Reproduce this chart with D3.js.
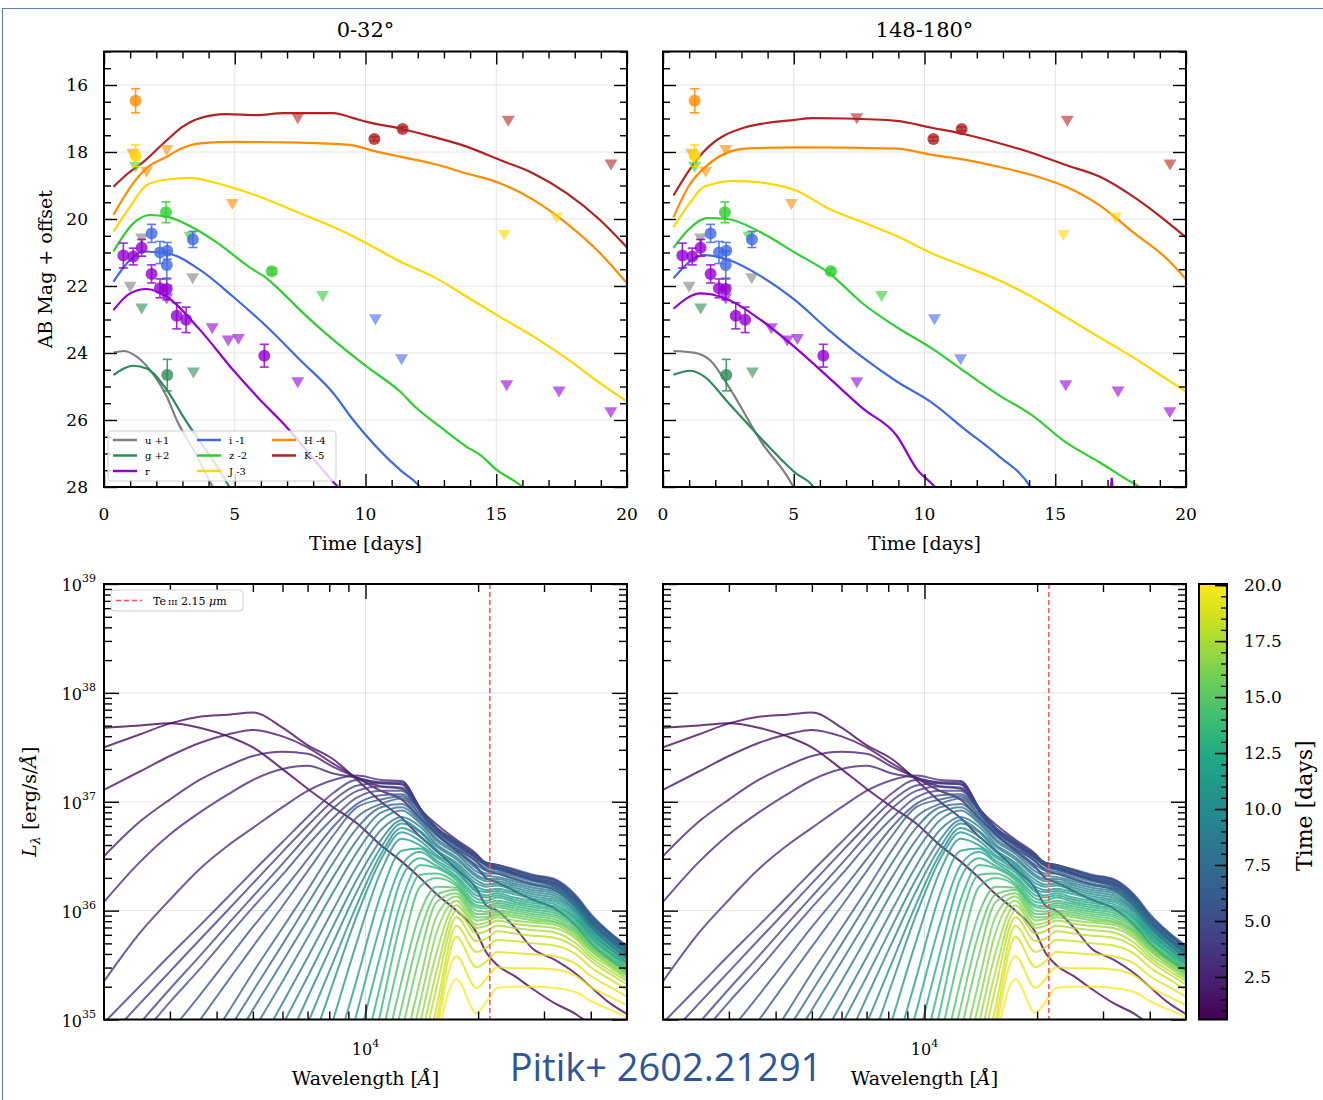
<!DOCTYPE html>
<html><head><meta charset="utf-8">
<script src="https://cdn.jsdelivr.net/npm/d3@7"></script>
<style>body{margin:0;background:#fff}svg{display:block}</style>
</head><body>
<svg id="c" width="1323" height="1100"></svg>
<script>
// ---------------- DATA ----------------
const bandNames=["u","g","r","i","z","J","H","K"];
const bandLabels=["u +1","g +2","r","i -1","z -2","J -3","H -4","K -5"];
const bandColors=["#808080","#2e8b57","#9400d3","#4169e1","#32cd32","#ffd700","#ff8c00","#b22222"];
const panelTitles=["0-32°","148-180°"];

// model light curves, left panel (0-32 deg): [time, mag]
const leftU=[[0.36,23.99],[0.74,23.94],[1.25,24.11],[1.76,24.51],[2.40,25.30],[2.78,26.00],[3.5,27.0],[4.12,27.94],[4.3,28.2]];
const leftG=[[0.36,24.66],[1.12,24.38],[1.63,24.46],[2.40,25.10],[3.03,25.90],[4.75,27.94],[4.9,28.15]];
const leftR=[[0.36,22.72],[1.00,22.22],[1.63,22.09],[2.40,22.32],[3.67,23.31],[4.94,24.51],[6.22,25.60],[6.73,26.00],[8.95,28.00],[9.2,28.2]];
const leftI=[[0.36,21.87],[1.00,21.22],[1.50,20.97],[2.40,21.02],[3.67,21.52],[4.94,22.32],[6.22,23.21],[7.50,24.21],[8.77,25.20],[9.53,26.00],[11.32,27.49],[12.02,27.94],[12.3,28.2]];
const leftZ=[[0.36,20.97],[1.12,20.13],[1.76,19.88],[2.40,19.93],[3.50,20.30],[4.31,20.70],[5.58,21.45],[6.22,21.77],[7.11,22.42],[7.50,22.72],[8.77,23.61],[10.05,24.41],[11.32,25.15],[11.96,25.65],[12.85,26.20],[13.87,26.80],[14.38,27.04],[15.02,27.49],[15.91,27.94],[16.3,28.2]];
const leftJ=[[0.36,20.38],[1.00,19.63],[1.63,18.99],[2.40,18.82],[3.29,18.77],[4.31,18.93],[5.58,19.23],[7.50,19.83],[9.02,20.33],[10.05,20.73],[11.32,21.27],[12.59,21.72],[13.87,22.32],[15.14,22.92],[16.42,23.51],[17.69,24.16],[18.97,24.90],[20.00,25.45]];
const leftH=[[0.36,19.88],[1.12,18.93],[1.60,18.50],[2.40,18.14],[3.00,17.88],[3.67,17.74],[4.94,17.70],[7.50,17.72],[9.40,17.79],[10.43,17.99],[11.32,18.14],[12.59,18.35],[13.87,18.64],[15.14,18.93],[16.42,19.43],[17.69,20.13],[18.97,21.02],[20.00,21.92]];
const leftK=[[0.36,19.04],[0.90,18.65],[1.50,18.30],[2.40,17.65],[3.00,17.25],[3.55,17.02],[4.69,16.87],[5.84,16.90],[6.86,16.84],[8.77,16.84],[9.50,16.98],[10.05,17.10],[11.32,17.30],[12.59,17.55],[13.87,17.84],[15.14,18.24],[16.42,18.64],[17.69,19.23],[18.97,20.03],[20.00,20.85]];

// model light curves, right panel (148-180 deg)
const rightU=[[0.40,23.94],[1.18,23.99],[1.83,24.24],[2.47,24.95],[3.77,26.67],[4.98,28.0],[5.1,28.2]];
const rightG=[[0.40,24.65],[1.05,24.53],[1.57,24.70],[2.47,25.46],[3.77,26.57],[5.06,27.58],[5.75,28.0],[5.9,28.2]];
const rightR=[[0.40,22.68],[1.44,22.22],[2.21,22.32],[3.77,23.03],[5.06,23.84],[6.36,24.75],[7.65,25.66],[8.94,26.47],[9.72,27.48],[10.4,28.0],[10.6,28.2]];
const rightRSpike=[[17.10,28.3],[17.16,27.73],[17.22,28.3]];
const rightI=[[0.40,21.77],[1.57,21.08],[2.47,21.21],[3.77,21.72],[5.06,22.43],[6.36,23.33],[7.65,24.14],[8.94,24.85],[10.24,25.46],[11.53,26.27],[12.83,27.07],[14.05,28.0],[14.2,28.2]];
const rightZ=[[0.40,20.86],[1.00,20.30],[1.70,19.97],[2.47,20.00],[3.77,20.41],[5.06,21.01],[6.36,21.62],[7.65,22.53],[8.94,23.23],[10.24,23.84],[11.53,24.55],[12.83,25.25],[14.12,25.86],[15.41,26.67],[16.71,27.27],[17.74,27.78],[18.2,28.0],[18.4,28.2]];
const rightJ=[[0.40,20.25],[1.00,19.55],[1.57,19.04],[2.73,18.86],[3.77,18.91],[5.06,19.14],[6.36,19.70],[7.65,20.10],[8.94,20.51],[10.24,21.01],[11.53,21.41],[12.83,21.82],[14.12,22.33],[15.41,22.93],[16.71,23.54],[18.00,24.14],[19.30,24.80],[20.00,25.15]];
const rightH=[[0.40,19.95],[1.00,19.00],[1.70,18.39],[3.12,17.90],[5.06,17.86],[8.94,17.90],[10.24,18.08],[11.53,18.23],[12.83,18.44],[14.12,18.69],[15.41,19.04],[16.71,19.60],[18.00,20.41],[19.30,21.21],[20.00,21.80]];
const rightK=[[0.40,19.30],[1.00,18.55],[1.57,17.98],[3.12,17.27],[5.06,17.04],[5.71,16.99],[7.00,17.00],[8.94,17.07],[10.24,17.27],[11.53,17.47],[12.83,17.73],[14.12,18.03],[15.41,18.39],[16.71,18.74],[18.00,19.34],[19.30,20.10],[20.00,20.55]];

// detections [time, mag, err]
const detU=[];
const detG=[[2.42,24.66,0.47]];
const detR=[[0.74,21.09,0.37],[1.12,21.12,0.25],[1.44,20.86,0.25],[1.82,21.64,0.27],[2.14,22.07,0.28],[2.40,22.09,0.32],[2.78,22.89,0.39],[3.14,23.01,0.38],[6.13,24.08,0.34]];
const detI=[[1.82,20.43,0.27],[2.14,21.00,0.33],[2.42,20.95,0.25],[2.40,21.37,0.42],[3.40,20.61,0.24]];
const detZ=[[2.37,19.80,0.31],[6.42,21.56,0.08]];
const detJ=[[1.21,18.11,0.32]];
const detH=[[1.21,16.47,0.36]];
const detK=[[10.34,17.61,0.06],[11.42,17.31,0.06]];
// upper limits [time, mag]
const limU=[[1.00,22.02],[1.44,20.58],[2.40,22.10],[3.39,21.77]];
const limG=[[1.44,22.67],[3.42,24.58]];
const limR=[[2.40,22.37],[4.14,23.26],[4.75,23.63],[5.14,23.58],[7.41,24.87],[15.40,24.96],[17.40,25.15],[19.38,25.77]];
const limI=[[10.38,22.99],[11.38,24.19]];
const limZ=[[1.21,18.44],[3.29,20.53],[8.36,22.30]];
const limJ=[[15.31,20.48],[17.31,19.96]];
const limH=[[1.10,18.05],[1.63,18.59],[2.40,17.94],[4.91,19.55]];
const limK=[[7.41,16.99],[15.46,17.07],[19.39,18.37]];

// spectra: wavelength grid (Angstrom), times (days), log10 L_lambda
const n=null;
const specWave=[2000,2500,3000,3600,4300,5000,6000,7000,8200,9500,11000,12500,14000,15500,17500,19800,21000,22500,25000,28000,32000,36500,40000,45000,50000];
const specTimes=[0.5,1,1.5,2,2.5,3,3.5,4,4.5,5,5.5,6,6.5,7,7.5,8,8.5,9,9.5,10,10.5,11,11.5,12,12.5,13,13.5,14,14.5,15,15.5,16,16.5,17,17.5,18,18.5,19,19.5,20];
const specLogL=[
[37.68,37.70,37.72,37.68,37.60,37.50,37.30,37.12,36.95,36.80,36.60,36.45,36.30,36.15,36.00,35.80,35.62,35.50,35.40,35.28,35.15,35.05,34.95,34.85,34.75],
[37.50,37.62,37.72,37.78,37.80,37.82,37.68,37.52,37.39,37.20,37.00,36.85,36.68,36.55,36.38,36.20,36.05,36.00,35.85,35.65,35.55,35.42,35.30,35.15,35.05],
[37.11,37.28,37.42,37.54,37.62,37.66,37.60,37.50,37.35,37.22,37.10,37.02,36.85,36.70,36.55,36.40,36.30,36.26,36.18,36.10,36.02,35.86,35.70,35.55,35.45],
[36.50,36.82,37.02,37.20,37.33,37.42,37.46,37.44,37.32,37.22,37.14,37.12,36.93,36.79,36.65,36.52,36.43,36.40,36.34,36.28,36.22,36.06,35.89,35.73,35.61],
[36.08,36.45,36.70,36.90,37.07,37.20,37.30,37.33,37.26,37.22,37.17,37.16,36.91,36.70,36.57,36.45,36.37,36.34,36.29,36.24,36.19,36.03,35.86,35.69,35.57],
[35.35,35.80,36.10,36.38,36.60,36.76,36.95,37.10,37.20,37.24,37.20,37.19,36.94,36.73,36.60,36.48,36.41,36.38,36.33,36.28,36.24,36.08,35.90,35.73,35.60],
[34.97,35.31,35.59,35.86,36.13,36.36,36.63,36.86,37.08,37.20,37.18,37.18,36.94,36.74,36.61,36.49,36.42,36.39,36.34,36.29,36.25,36.09,35.91,35.74,35.61],
[34.79,35.15,35.44,35.73,36.01,36.25,36.54,36.78,37.01,37.15,37.17,37.16,36.94,36.75,36.62,36.50,36.43,36.40,36.35,36.30,36.26,36.10,35.92,35.75,35.62],
[n,34.97,35.28,35.58,35.88,36.13,36.43,36.69,36.94,37.10,37.14,37.13,36.93,36.76,36.63,36.51,36.44,36.42,36.37,36.32,36.28,36.12,35.95,35.78,35.65],
[n,34.84,35.16,35.46,35.77,36.03,36.33,36.60,36.85,37.04,37.10,37.10,36.92,36.76,36.63,36.50,36.44,36.42,36.37,36.32,36.28,36.13,35.95,35.79,35.66],
[n,n,34.88,35.22,35.56,35.85,36.18,36.47,36.77,36.98,37.06,37.07,36.92,36.76,36.64,36.50,36.44,36.42,36.38,36.33,36.29,36.14,35.97,35.80,35.68],
[n,n,n,34.99,35.36,35.67,36.04,36.36,36.69,36.95,37.02,37.05,36.89,36.74,36.61,36.47,36.42,36.40,36.36,36.31,36.27,36.12,35.95,35.79,35.66],
[n,n,n,34.66,35.07,35.43,35.84,36.19,36.56,36.86,36.98,37.03,36.87,36.71,36.59,36.45,36.39,36.38,36.33,36.29,36.25,36.11,35.94,35.77,35.65],
[n,n,n,n,34.90,35.26,35.69,36.06,36.44,36.76,36.95,36.98,36.84,36.69,36.56,36.42,36.37,36.36,36.31,36.27,36.23,36.09,35.92,35.76,35.64],
[n,n,n,n,34.71,35.09,35.53,35.91,36.31,36.65,36.90,36.95,36.82,36.66,36.54,36.39,36.34,36.34,36.29,36.25,36.21,36.07,35.90,35.75,35.62],
[n,n,n,n,n,34.89,35.35,35.75,36.17,36.54,36.83,36.92,36.80,36.64,36.52,36.36,36.32,36.31,36.27,36.23,36.20,36.05,35.89,35.73,35.61],
[n,n,n,n,n,34.66,35.15,35.57,36.01,36.41,36.74,36.86,36.77,36.61,36.49,36.33,36.29,36.29,36.25,36.21,36.18,36.04,35.87,35.72,35.60],
[n,n,n,n,n,n,34.95,35.39,35.86,36.29,36.65,36.83,36.73,36.59,36.47,36.31,36.27,36.27,36.23,36.19,36.16,36.02,35.86,35.71,35.59],
[n,n,n,n,n,n,34.70,35.20,35.71,36.18,36.58,36.80,36.72,36.56,36.44,36.28,36.24,36.25,36.21,36.17,36.14,36.00,35.84,35.69,35.57],
[n,n,n,n,n,n,n,34.96,35.53,36.06,36.52,36.76,36.68,36.54,36.42,36.25,36.22,36.23,36.19,36.15,36.12,35.99,35.83,35.68,35.56],
[n,n,n,n,n,n,n,34.66,35.34,35.96,36.47,36.72,36.64,36.51,36.40,36.22,36.19,36.20,36.17,36.13,36.10,35.97,35.81,35.66,35.55],
[n,n,n,n,n,n,n,34.22,35.00,35.72,36.36,36.66,36.60,36.49,36.37,36.19,36.17,36.18,36.15,36.11,36.08,35.95,35.80,35.65,35.53],
[n,n,n,n,n,n,n,n,34.62,35.38,36.15,36.55,36.57,36.46,36.35,36.17,36.14,36.16,36.12,36.09,36.06,35.93,35.78,35.64,35.52],
[n,n,n,n,n,n,n,n,34.25,35.07,35.88,36.42,36.54,36.44,36.32,36.14,36.12,36.14,36.10,36.07,36.04,35.92,35.77,35.62,35.51],
[n,n,n,n,n,n,n,n,n,34.75,35.61,36.30,36.48,36.41,36.30,36.11,36.09,36.12,36.08,36.05,36.02,35.90,35.75,35.61,35.50],
[n,n,n,n,n,n,n,n,n,34.43,35.34,36.10,36.42,36.39,36.28,36.08,36.07,36.09,36.06,36.03,36.00,35.88,35.74,35.60,35.48],
[n,n,n,n,n,n,n,n,n,34.12,35.08,35.92,36.33,36.34,36.25,36.05,36.04,36.07,36.04,36.01,35.98,35.87,35.72,35.58,35.47],
[n,n,n,n,n,n,n,n,n,n,34.80,35.64,36.22,36.30,36.23,36.03,36.02,36.05,36.02,35.99,35.96,35.85,35.70,35.57,35.46],
[n,n,n,n,n,n,n,n,n,n,34.52,35.36,35.98,36.22,36.21,36.00,35.99,36.03,36.00,35.97,35.94,35.83,35.69,35.55,35.45],
[n,n,n,n,n,n,n,n,n,n,34.28,35.12,35.80,36.15,36.19,35.97,35.97,36.00,35.98,35.95,35.92,35.81,35.67,35.54,35.43],
[n,n,n,n,n,n,n,n,n,n,n,34.88,35.60,36.08,36.16,35.94,35.94,35.98,35.96,35.93,35.90,35.80,35.66,35.53,35.42],
[n,n,n,n,n,n,n,n,n,n,n,34.64,35.36,35.95,36.13,35.91,35.92,35.96,35.94,35.91,35.89,35.78,35.64,35.51,35.41],
[n,n,n,n,n,n,n,n,n,n,n,34.44,35.16,35.80,36.09,35.87,35.89,35.94,35.91,35.89,35.87,35.76,35.63,35.50,35.39],
[n,n,n,n,n,n,n,n,n,n,n,n,34.96,35.62,36.05,35.84,35.86,35.91,35.88,35.86,35.84,35.74,35.60,35.48,35.37],
[n,n,n,n,n,n,n,n,n,n,n,n,34.76,35.45,36.00,35.79,35.81,35.86,35.84,35.82,35.80,35.70,35.57,35.45,35.35],
[n,n,n,n,n,n,n,n,n,n,n,n,34.60,35.30,35.94,35.72,35.74,35.81,35.79,35.77,35.75,35.66,35.54,35.42,35.32],
[n,n,n,n,n,n,n,n,n,n,n,n,34.45,35.12,35.86,35.62,35.66,35.73,35.72,35.70,35.68,35.60,35.48,35.37,35.27],
[n,n,n,n,n,n,n,n,n,n,n,n,34.30,35.00,35.76,35.48,35.53,35.62,35.61,35.60,35.58,35.51,35.40,35.30,35.21],
[n,n,n,n,n,n,n,n,n,n,n,n,n,34.88,35.58,35.29,35.37,35.48,35.47,35.47,35.46,35.40,35.30,35.21,35.13],
[n,n,n,n,n,n,n,n,n,n,n,n,n,34.80,35.37,35.06,35.16,35.29,35.30,35.30,35.29,35.25,35.17,35.09,35.02]
];
const teLine=21500;
const colorbarTicks=[2.5,5.0,7.5,10.0,12.5,15.0,17.5,20.0];

// ---------------- DRAWING ----------------
const svg=d3.select("#c");
const SERIF="'DejaVu Serif', serif";
svg.append("rect").attr("x",2.5).attr("y",8.5).attr("width",1340).attr("height",1200)
  .attr("fill","none").attr("stroke","#5b7fb8").attr("stroke-width",1);

const topBox=[{l:104,r:627,t:51.5,b:487},{l:663,r:1186,t:51.5,b:487}];
const botBox=[{l:104,r:627,t:584,b:1019.5},{l:663,r:1186,t:584,b:1019.5}];
const leftModels=[leftU,leftG,leftR,leftI,leftZ,leftJ,leftH,leftK];
const rightModels=[rightU,rightG,rightR,rightI,rightZ,rightJ,rightH,rightK];
const dets=[detU,detG,detR,detI,detZ,detJ,detH,detK];
const lims=[limU,limG,limR,limI,limZ,limJ,limH,limK];

function inwardTicks(g,box,xs,ys,xMaj,xMin,yMaj,yMin,LM,Lm){
  const mk=(axis,vals,len,tr)=>{
    const a=g.append("g").attr("transform",tr).call(axis.tickValues(vals).tickSize(-len).tickFormat(""));
    a.select(".domain").remove();
    a.selectAll("line").attr("stroke","#000").attr("stroke-width",1.4);
  };
  mk(d3.axisBottom(xs),xMaj,LM,`translate(0,${box.b})`);
  mk(d3.axisBottom(xs),xMin,Lm,`translate(0,${box.b})`);
  mk(d3.axisTop(xs),xMaj,LM,`translate(0,${box.t})`);
  mk(d3.axisTop(xs),xMin,Lm,`translate(0,${box.t})`);
  mk(d3.axisLeft(ys),yMaj,LM,`translate(${box.l},0)`);
  mk(d3.axisLeft(ys),yMin,Lm,`translate(${box.l},0)`);
  mk(d3.axisRight(ys),yMaj,LM,`translate(${box.r},0)`);
  mk(d3.axisRight(ys),yMin,Lm,`translate(${box.r},0)`);
}

// ---- top panels ----
topBox.forEach((box,pi)=>{
  const g=svg.append("g");
  const xs=d3.scaleLinear().domain([0,20]).range([box.l,box.r]);
  const ys=d3.scaleLinear().domain([15,28]).range([box.t,box.b]);
  const cid="ctop"+pi;
  svg.append("clipPath").attr("id",cid).append("rect").attr("x",box.l).attr("y",box.t).attr("width",box.r-box.l).attr("height",box.b-box.t);
  [5,10,15].forEach(v=>g.append("line").attr("x1",xs(v)).attr("x2",xs(v)).attr("y1",box.t).attr("y2",box.b).attr("stroke","#e4e4e4").attr("stroke-width",1));
  [16,18,20,22,24,26].forEach(v=>g.append("line").attr("x1",box.l).attr("x2",box.r).attr("y1",ys(v)).attr("y2",ys(v)).attr("stroke","#e4e4e4").attr("stroke-width",1));
  const pg=g.append("g").attr("clip-path",`url(#${cid})`);
  const line=d3.line().x(d=>xs(d[0])).y(d=>ys(d[1])).curve(d3.curveMonotoneX);
  const models=pi===0?leftModels:rightModels;
  models.forEach((m,bi)=>pg.append("path").attr("d",line(m)).attr("fill","none").attr("stroke",bandColors[bi]).attr("stroke-width",2.2));
  if(pi===1) pg.append("path").attr("d",d3.line().x(d=>xs(d[0])).y(d=>ys(d[1]))(rightRSpike)).attr("fill","none").attr("stroke",bandColors[2]).attr("stroke-width",2.2);
  lims.forEach((arr,bi)=>arr.forEach(d=>{
    const x=xs(d[0]),y=ys(d[1]);
    pg.append("path").attr("d",`M${x-6.5},${y-5}L${x+6.5},${y-5}L${x},${y+6}Z`).attr("fill",bandColors[bi]).attr("fill-opacity",0.6);
  }));
  dets.forEach((arr,bi)=>arr.forEach(d=>{
    const x=xs(d[0]),y=ys(d[1]),y1=ys(d[1]-d[2]),y2=ys(d[1]+d[2]);
    const c=bandColors[bi];
    const eg=pg.append("g").attr("stroke",c).attr("stroke-width",1.6).attr("opacity",0.85);
    eg.append("line").attr("x1",x).attr("x2",x).attr("y1",y1).attr("y2",y2);
    eg.append("line").attr("x1",x-4.5).attr("x2",x+4.5).attr("y1",y1).attr("y2",y1);
    eg.append("line").attr("x1",x-4.5).attr("x2",x+4.5).attr("y1",y2).attr("y2",y2);
    pg.append("circle").attr("cx",x).attr("cy",y).attr("r",6).attr("fill",c).attr("fill-opacity",0.8);
  }));
  inwardTicks(g,box,xs,ys,[0,5,10,15,20],d3.range(1,20).filter(v=>v%5),[16,18,20,22,24,26,28],d3.range(15,28.01,0.5).filter(v=>v%2!==0),13,7);
  g.append("rect").attr("x",box.l).attr("y",box.t).attr("width",box.r-box.l).attr("height",box.b-box.t).attr("fill","none").attr("stroke","#000").attr("stroke-width",2);
  [0,5,10,15,20].forEach(v=>g.append("text").attr("x",xs(v)).attr("y",box.b+33).attr("text-anchor","middle").attr("font-family",SERIF).attr("font-size",17).text(v));
  if(pi===0)[16,18,20,22,24,26,28].forEach(v=>g.append("text").attr("x",box.l-16).attr("y",ys(v)+6).attr("text-anchor","end").attr("font-family",SERIF).attr("font-size",17).text(v));
  g.append("text").attr("x",(box.l+box.r)/2).attr("y",box.b+63).attr("text-anchor","middle").attr("font-family",SERIF).attr("font-size",19).text("Time [days]");
  g.append("text").attr("x",(box.l+box.r)/2).attr("y",37).attr("text-anchor","middle").attr("font-family",SERIF).attr("font-size",21).text(panelTitles[pi]);
  if(pi===0){
    g.append("text").attr("transform",`translate(52,${(box.t+box.b)/2}) rotate(-90)`).attr("text-anchor","middle").attr("font-family",SERIF).attr("font-size",19).text("AB Mag + offset");
    const lg=g.append("g");
    lg.append("rect").attr("x",108).attr("y",431).attr("width",228).attr("height",50).attr("rx",3).attr("fill","#fff").attr("fill-opacity",0.8).attr("stroke","#cfcfcf");
    const cols=[113,197,272],rows=[440,455.5,471];
    bandLabels.forEach((lab,i)=>{
      const cx=cols[Math.floor(i/3)],cy=rows[i%3];
      lg.append("line").attr("x1",cx).attr("x2",cx+24).attr("y1",cy).attr("y2",cy).attr("stroke",bandColors[i]).attr("stroke-width",2.5);
      lg.append("text").attr("x",cx+32).attr("y",cy+3.5).attr("font-family",SERIF).attr("font-size",10).text(lab);
    });
  }
});

// ---- bottom panels ----
const tmin=0.6,tmax=20.05;
const cscale=t=>d3.interpolateViridis(Math.max(0,Math.min(1,(t-tmin)/(tmax-tmin))));
botBox.forEach((box,pi)=>{
  const g=svg.append("g");
  const xs=d3.scaleLog().domain([2000,50000]).range([box.l,box.r]);
  const ys=d3.scaleLog().domain([1e35,1e39]).range([box.b,box.t]);
  const cid="cbot"+pi;
  svg.append("clipPath").attr("id",cid).append("rect").attr("x",box.l).attr("y",box.t).attr("width",box.r-box.l).attr("height",box.b-box.t);
  [1e36,1e37,1e38].forEach(v=>g.append("line").attr("x1",box.l).attr("x2",box.r).attr("y1",ys(v)).attr("y2",ys(v)).attr("stroke","#e4e4e4"));
  g.append("line").attr("x1",xs(1e4)).attr("x2",xs(1e4)).attr("y1",box.t).attr("y2",box.b).attr("stroke","#e4e4e4");
  const pg=g.append("g").attr("clip-path",`url(#${cid})`);
  const line=d3.line().defined(d=>d[1]!=null).x(d=>xs(d[0])).y(d=>ys(Math.pow(10,d[1]))).curve(d3.curveMonotoneX);
  specLogL.forEach((row,k)=>{
    const pts=specWave.map((w,j)=>[w,row[j]]);
    pg.append("path").attr("d",line(pts)).attr("fill","none").attr("stroke",cscale(specTimes[k])).attr("stroke-width",2).attr("stroke-opacity",0.78);
  });
  pg.append("line").attr("x1",xs(teLine)).attr("x2",xs(teLine)).attr("y1",box.t).attr("y2",box.b).attr("stroke","#ff4d4d").attr("stroke-width",1.5).attr("stroke-dasharray","5,3");
  const yMin=[];for(let e=35;e<39;e++)for(let k=2;k<=9;k++)yMin.push(k*Math.pow(10,e));
  inwardTicks(g,box,xs,ys,[1e4],[3000,4000,5000,6000,7000,8000,9000,20000,30000,40000],[1e35,1e36,1e37,1e38,1e39],yMin,15,8);
  g.append("rect").attr("x",box.l).attr("y",box.t).attr("width",box.r-box.l).attr("height",box.b-box.t).attr("fill","none").attr("stroke","#000").attr("stroke-width",2);
  const t4=g.append("text").attr("x",xs(1e4)).attr("y",box.b+35).attr("text-anchor","middle").attr("font-family",SERIF).attr("font-size",16);
  t4.append("tspan").text("10");t4.append("tspan").attr("dy",-8).attr("font-size",11).text("4");
  const wl=g.append("text").attr("x",(box.l+box.r)/2).attr("y",box.b+65).attr("text-anchor","middle").attr("font-family",SERIF).attr("font-size",19);
  wl.append("tspan").text("Wavelength [");wl.append("tspan").attr("font-style","italic").text("Å");wl.append("tspan").text("]");
  if(pi===0){
    [35,36,37,38,39].forEach(e=>{
      const t=g.append("text").attr("x",box.l-8).attr("y",ys(Math.pow(10,e))+7).attr("text-anchor","end").attr("font-family",SERIF).attr("font-size",16);
      t.append("tspan").text("10");t.append("tspan").attr("dy",-9).attr("font-size",11).text(e);
    });
    const yl=g.append("text").attr("transform",`translate(36,${(box.t+box.b)/2}) rotate(-90)`).attr("text-anchor","middle").attr("font-family",SERIF).attr("font-size",19);
    yl.append("tspan").attr("font-style","italic").text("L");
    yl.append("tspan").attr("font-style","italic").attr("font-size",13).attr("dy",4).text("λ");
    yl.append("tspan").attr("dy",-4).text(" [erg/s/");
    yl.append("tspan").attr("font-style","italic").text("Å");
    yl.append("tspan").text("]");
    const lg=g.append("g");
    lg.append("rect").attr("x",111).attr("y",590).attr("width",132).attr("height",21).attr("rx",3).attr("fill","#fff").attr("stroke","#cfcfcf");
    lg.append("line").attr("x1",116).attr("x2",142).attr("y1",600.5).attr("y2",600.5).attr("stroke","#ff4d4d").attr("stroke-width",1.5).attr("stroke-dasharray","5,3");
    const lt=lg.append("text").attr("x",153).attr("y",604.5).attr("font-family",SERIF).attr("font-size",11);
    lt.append("tspan").text("Te");
    lt.append("tspan").attr("font-size",8).attr("dx",2).text("III");
    lt.append("tspan").text(" 2.15 ");
    lt.append("tspan").attr("font-style","italic").text("μ");
    lt.append("tspan").text("m");
  }
});

// ---- colorbar ----
const cb={l:1199,r:1227,t:584,b:1019.5};
const cy=d3.scaleLinear().domain([tmin,tmax]).range([cb.b,cb.t]);
const grad=svg.append("defs").append("linearGradient").attr("id","vir").attr("x1",0).attr("y1",1).attr("x2",0).attr("y2",0);
d3.range(0,1.0001,0.05).forEach(s=>grad.append("stop").attr("offset",s).attr("stop-color",d3.interpolateViridis(s)));
svg.append("rect").attr("x",cb.l).attr("y",cb.t).attr("width",cb.r-cb.l).attr("height",cb.b-cb.t).attr("fill","url(#vir)");
const cbg=svg.append("g").attr("transform",`translate(${cb.r},0)`);
cbg.call(d3.axisLeft(cy).tickValues(d3.range(1,20.01,0.5)).tickSize(6).tickFormat(""));
cbg.select(".domain").remove();
cbg.selectAll("line").attr("stroke","#000").attr("stroke-width",1.3);
const cbg2=svg.append("g").attr("transform",`translate(${cb.r},0)`);
cbg2.call(d3.axisLeft(cy).tickValues(colorbarTicks).tickSize(12).tickFormat(""));
cbg2.select(".domain").remove();
cbg2.selectAll("line").attr("stroke","#000").attr("stroke-width",1.5);
svg.append("rect").attr("x",cb.l).attr("y",cb.t).attr("width",cb.r-cb.l).attr("height",cb.b-cb.t).attr("fill","none").attr("stroke","#000").attr("stroke-width",2);
colorbarTicks.forEach(v=>svg.append("text").attr("x",1244).attr("y",cy(v)+6).attr("font-family",SERIF).attr("font-size",17).text(v.toFixed(1)));
svg.append("text").attr("transform",`translate(1312,${(cb.t+cb.b)/2+4}) rotate(-90)`).attr("text-anchor","middle").attr("font-family",SERIF).attr("font-size",22).text("Time [days]");

// ---- footer text ----
svg.append("text").attr("x",666).attr("y",1081).attr("text-anchor","middle").attr("font-family","'Open Sans', 'Noto Sans', sans-serif").attr("font-size",38).attr("fill","#2F5597").text("Pitik+ 2602.21291");
</script>
</body></html>
